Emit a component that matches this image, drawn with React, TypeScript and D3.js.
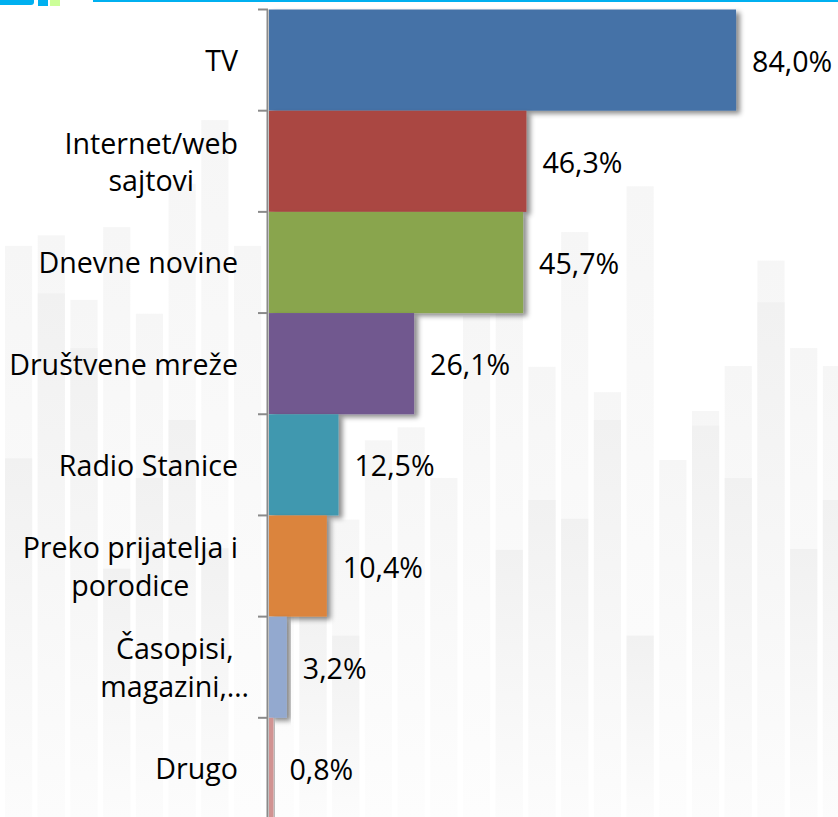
import React, { useEffect, useRef } from "react";
import * as d3 from "d3";

const categories = [
  "TV",
  "Internet/web sajtovi",
  "Dnevne novine",
  "Društvene mreže",
  "Radio Stanice",
  "Preko prijatelja i porodice",
  "Časopisi, magazini,…",
  "Drugo",
];
const labelLines = [
  ["TV"],
  ["Internet/web", "sajtovi"],
  ["Dnevne novine"],
  ["Društvene mreže"],
  ["Radio Stanice"],
  ["Preko prijatelja i", "porodice"],
  ["Časopisi,", "magazini,…"],
  ["Drugo"],
];
const values = [84.0, 46.3, 45.7, 26.1, 12.5, 10.4, 3.2, 0.8];
const barColors = ["#4572A7", "#AA4643", "#89A54E", "#71588F", "#4198AF", "#DB843D", "#93A9CF", "#D19392"];

// decorative faint background columns (relative heights, 0-100)
const bgOuter = [69.9, 71.2, 63.3, 72.2, 61.6, 77.5, 85.3, 69.9, 64.5, 59.6, 36.4, 46.1, 47.7, 41.5, 61.3, 63.3, 55.1, 71.6, 52.0, 77.2, 43.7, 49.7, 55.2, 68.1, 57.4, 55.2];
const bgInner = [43.9, 64.1, 57.4, 30.4, 41.5, 48.6, 32.9, 0, 0, 26.6, 22.2, 0, 0, 0, 0, 32.7, 38.8, 36.5, 48.6, 22.2, 0, 47.9, 41.5, 63.0, 32.8, 38.8];

const W = 838;
const H = 817;
const FONT = "'Open Sans', sans-serif";
const FS = 28.6;

export default function App() {
  const ref = useRef<SVGSVGElement>(null);

  useEffect(() => {
    const svg = d3.select(ref.current);
    svg.selectAll("*").remove();

    const defs = svg.append("defs");
    const g1 = defs.append("linearGradient").attr("id", "bgOuterG").attr("x1", 0).attr("y1", 0).attr("x2", 0).attr("y2", 1);
    g1.append("stop").attr("offset", "0%").attr("stop-color", "#f6f6f6");
    g1.append("stop").attr("offset", "100%").attr("stop-color", "#fdfdfd");
    const g2 = defs.append("linearGradient").attr("id", "bgInnerG").attr("x1", 0).attr("y1", 0).attr("x2", 0).attr("y2", 1);
    g2.append("stop").attr("offset", "0%").attr("stop-color", "#f1f1f1");
    g2.append("stop").attr("offset", "100%").attr("stop-color", "#fcfcfc");
    const f = defs.append("filter").attr("id", "shadow").attr("x", "-10%").attr("y", "-10%").attr("width", "130%").attr("height", "130%");
    f.append("feDropShadow").attr("dx", 4).attr("dy", 3).attr("stdDeviation", 2.5).attr("flood-color", "#000").attr("flood-opacity", 0.45);

    svg.append("rect").attr("width", W).attr("height", H).attr("fill", "#ffffff");

    // background decoration
    const bx = d3.scaleBand<number>().domain(d3.range(bgOuter.length)).range([5, 850]).paddingInner(0.17).paddingOuter(0);
    const by = d3.scaleLinear().domain([0, 100]).range([H, 0]);
    const bg = svg.append("g");
    bg.selectAll("rect.o").data(bgOuter).join("rect").attr("class", "o")
      .attr("x", (_, i) => bx(i)!).attr("width", bx.bandwidth())
      .attr("y", (d) => by(d)).attr("height", (d) => H - by(d)).attr("fill", "url(#bgOuterG)");
    bg.selectAll("rect.i").data(bgInner).join("rect").attr("class", "i")
      .attr("x", (_, i) => bx(i)!).attr("width", bx.bandwidth())
      .attr("y", (d) => by(d)).attr("height", (d) => H - by(d)).attr("fill", "url(#bgInnerG)")
      .attr("display", (d) => (d > 0 ? null : "none"));

    // top decorations
    svg.append("rect").attr("x", -4).attr("y", -4).attr("width", 38).attr("height", 9).attr("rx", 3).attr("fill", "#00B0F0");
    svg.append("rect").attr("x", 38).attr("y", -2).attr("width", 10).attr("height", 8).attr("fill", "#00B0F0");
    svg.append("rect").attr("x", 50).attr("y", -2).attr("width", 10).attr("height", 8).attr("fill", "#CCFF99");
    svg.append("rect").attr("x", 93).attr("y", 0).attr("width", W - 93).attr("height", 2).attr("fill", "#00B0F0");

    const x = d3.scaleLinear().domain([0, 100]).range([269, 825]);
    const y = d3.scaleBand<string>().domain(categories).range([9.5, 819]).padding(0);

    // bars
    svg.append("g").selectAll("rect").data(values).join("rect")
      .attr("x", x(0))
      .attr("y", (_, i) => y(categories[i])!)
      .attr("width", (d) => x(d) - x(0))
      .attr("height", y.bandwidth())
      .attr("fill", (_, i) => barColors[i])
      .attr("filter", "url(#shadow)");

    // axis
    const axis = svg.append("g");
    axis.append("line").attr("x1", 267.5).attr("x2", 267.5).attr("y1", y.range()[0]).attr("y2", H)
      .attr("stroke", "#8a8a8a").attr("stroke-width", 2);
    const ticks = categories.map((c) => y(c)!).concat([y.range()[1]]);
    axis.selectAll("line.t").data(ticks).join("line").attr("class", "t")
      .attr("x1", 258).attr("x2", 268).attr("y1", (d) => d).attr("y2", (d) => d)
      .attr("stroke", "#8a8a8a").attr("stroke-width", 2);

    // value labels
    const fmt = (v: number) => d3.format(".1f")(v).replace(".", ",") + "%";
    svg.append("g").selectAll("text").data(values).join("text")
      .attr("x", (d) => x(d) + 16)
      .attr("y", (_, i) => y(categories[i])! + y.bandwidth() / 2 + 11.5)
      .attr("font-family", FONT).attr("font-size", FS).attr("fill", "#000")
      .text((d) => fmt(d));

    // category labels
    const lg = svg.append("g");
    const lineH = 37.5;
    const rightEdge = 238;
    labelLines.forEach((lines, i) => {
      const cy = y(categories[i])! + y.bandwidth() / 2;
      const texts = lines.map((ln, j) =>
        lg.append("text")
          .attr("font-family", FONT).attr("font-size", FS).attr("fill", "#000")
          .attr("y", cy + 11 + (j - (lines.length - 1) / 2) * lineH)
          .text(ln)
      );
      if (lines.length === 1) {
        texts[0].attr("x", rightEdge).attr("text-anchor", "end");
      } else {
        // measure without a trailing ellipsis (it may overflow the label box)
        const widths = lines.map((ln, j) => {
          const node = texts[j].node() as SVGTextElement;
          const full = node.getComputedTextLength();
          if (ln.endsWith("…")) {
            const n = ln.length - 1;
            return n > 0 ? node.getSubStringLength(0, n) : full;
          }
          return full;
        });
        const maxW = Math.max(...widths);
        const cx = rightEdge - maxW / 2;
        texts.forEach((t) => t.attr("x", cx).attr("text-anchor", "middle"));
      }
    });
  }, []);

  return (
    <svg
      ref={ref}
      width={W}
      height={H}
      style={{ position: "absolute", left: 0, top: 0, display: "block" }}
    />
  );
}
